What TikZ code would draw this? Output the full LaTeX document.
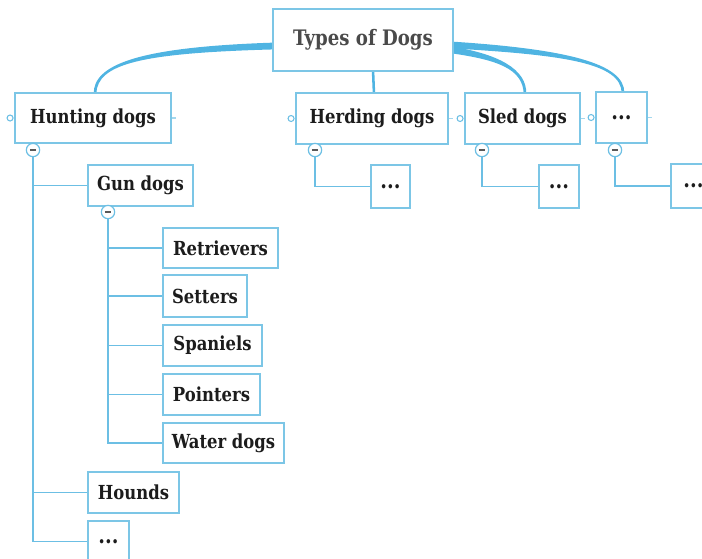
\documentclass[tikz,border=0pt]{standalone}
\usepackage{fontspec}
\setmainfont{DejaVu Serif}[FakeStretch=0.85]
\definecolor{boxline}{HTML}{7CC6E6}
\definecolor{conline}{HTML}{6CBFE4}
\definecolor{curveline}{HTML}{4FB4E2}
\definecolor{roottext}{HTML}{4A4A4A}
\definecolor{nodetext}{HTML}{1C1C1C}
\tikzset{
  box/.style={draw=boxline, line width=1.1pt, fill=white, rectangle, inner sep=0pt, text=nodetext, font=\bfseries\fontsize{14.5}{16}\selectfont},
  dotsbox/.style={box, font=\bfseries\fontsize{17}{18}\selectfont},
  rootbox/.style={box, text=roottext, font=\bfseries\fontsize{16}{18}\selectfont},
  conn/.style={draw=conline, line width=1.25pt},
  minusbtn/.style={circle, draw=conline, line width=0.9pt, fill=white, minimum size=10pt, inner sep=0pt,
    path picture={\draw[line width=1.1pt, black!65] ([xshift=-2.3pt]path picture bounding box.center) -- ([xshift=2.3pt]path picture bounding box.center);}},
  sidedot/.style={circle, draw=conline, line width=0.8pt, fill=white, minimum size=4.5pt, inner sep=0pt},
  stub/.style={draw=boxline!70, line width=0.8pt},
  curve/.style={fill=curveline, draw=none}
}
\newcommand\bx[7][box]{\node[#1, minimum width={(#5-#3)*0.75pt}, minimum height={(#6-#4)*0.75pt}] (#2) at ({(#3+#5)/2},{(#4+#6)/2}) {#7};}
% tapered curve: x0 y0 c1x c1y c2x c2y x1 y1 sign
\newcommand\taper[9]{\fill[curve] (#1,#2-3.4) .. controls (#3,#4-3) and (#5-#9*2,#6) .. (#7-#9*1.3,#8) -- (#7+#9*1.3,#8) .. controls (#5+#9*2,#6) and (#3,#4+3) .. (#1,#2+3.4) -- cycle;}
\begin{document}
\begin{tikzpicture}[x=0.75pt,y=-0.75pt]
\useasboundingbox (0,0) rectangle (702,558);
% curves from root
\taper{274}{46}{140}{50}{95}{64}{95}{94}{1}
\taper{452}{50}{498}{57}{525}{69}{525}{94}{-1}
\taper{452}{45}{565}{52}{623}{63}{623}{93}{-1}
\draw[curveline, line width=1.9pt] (373,70) -- (374,94);
% top-level boxes
\bx[rootbox]{root}{273}{9}{453}{71}{Types of Dogs}
\bx{hunt}{15}{93}{171}{143}{Hunting dogs}
\bx{herd}{296}{93}{448}{144}{Herding dogs}
\bx{sled}{465}{93}{580}{144}{Sled dogs}
\bx[dotsbox]{more}{596}{92}{647}{143}{...}
% side markers
\foreach \n in {hunt,herd,sled,more}{
  \node[sidedot, anchor=east] (\n-dot) at ([xshift=-0.5pt]\n.west) {};
  \draw[stub] (\n.east) -- ++(4,0);
}
% minus buttons
\node[minusbtn] (huntm) at (33,150) {};
\node[minusbtn] (herdm) at (315,150) {};
\node[minusbtn] (sledm) at (482,150) {};
\node[minusbtn] (morem) at (615,150) {};
% children of herding, sled, more
\bx[dotsbox]{herdc}{371}{165}{410}{208}{...}
\bx[dotsbox]{sledc}{539}{165}{579}{208}{...}
\bx[dotsbox]{morec}{671}{164}{716}{208}{...}
\draw[conn] (herdm.south) |- (herdc.west);
\draw[conn] (sledm.south) |- (sledc.west);
\draw[conn] (morem.south) |- (morec.west);
% hunting children
\bx{gun}{88}{165}{193}{206}{Gun dogs}
\bx{hounds}{88}{472}{179}{513}{Hounds}
\bx[dotsbox]{huntmore}{88}{521}{129}{562}{...}
\draw[conn] (huntm.south) |- (gun.west);
\draw[conn] (huntm.south) |- (hounds.west);
\draw[conn] (huntm.south) |- (huntmore.west);
% gun dogs children
\node[minusbtn] (gunm) at (108,212) {};
\bx{retr}{163}{228}{278}{268}{Retrievers}
\bx{sett}{163}{275}{247}{317}{Setters}
\bx{span}{163}{325}{262}{366}{Spaniels}
\bx{point}{163}{374}{260}{415}{Pointers}
\bx{water}{163}{423}{284}{463}{Water dogs}
\foreach \c in {retr,sett,span,point,water}{
  \draw[conn] (gunm.south) |- (\c.west);
}
\end{tikzpicture}
\end{document}
